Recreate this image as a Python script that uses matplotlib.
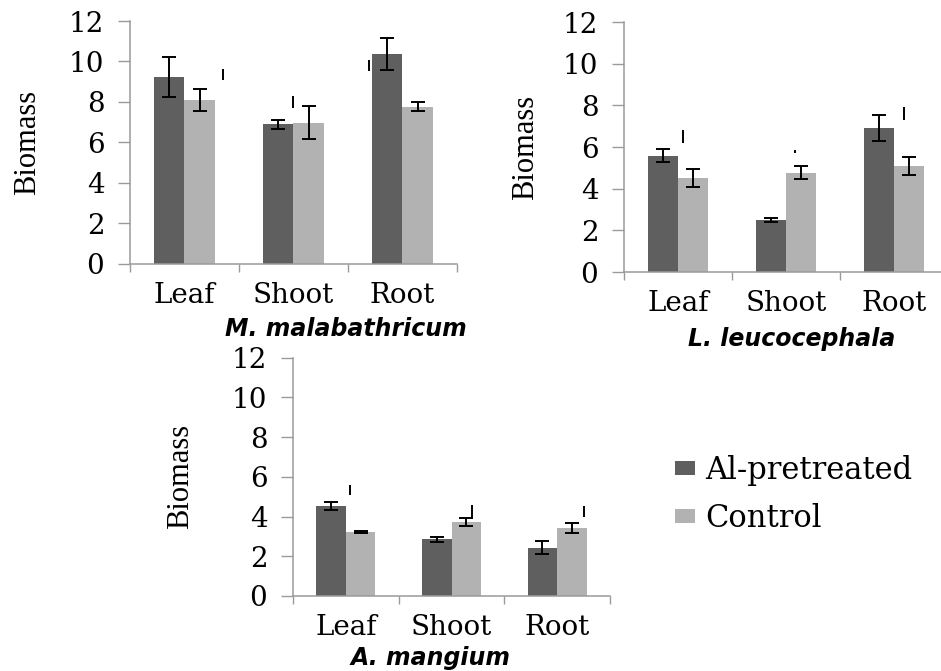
import matplotlib
matplotlib.use("Agg")
import matplotlib.pyplot as plt
import numpy as np

# Biomass of plant parts, Al-pretreated vs control, three species
parts = ["Leaf", "Shoot", "Root"]
series = ["Al-pretreated", "Control"]

mm_al = [9.23, 6.90, 10.37]
mm_al_err = [1.00, 0.22, 0.80]
mm_ctrl = [8.10, 6.98, 7.77]
mm_ctrl_err = [0.55, 0.80, 0.22]

ll_al = [5.59, 2.48, 6.90]
ll_al_err = [0.33, 0.10, 0.62]
ll_ctrl = [4.51, 4.77, 5.10]
ll_ctrl_err = [0.43, 0.31, 0.43]

am_al = [4.53, 2.85, 2.43]
am_al_err = [0.22, 0.13, 0.32]
am_ctrl = [3.22, 3.73, 3.44]
am_ctrl_err = [0.05, 0.22, 0.25]

# stray significance ticks: (x in category units, centre y, half length)
mm_marks = [(0.35, 9.36, 0.27), (1.00, 8.02, 0.30), (1.69, 9.80, 0.27)]
ll_marks = [(0.05, 6.51, 0.30), (1.08, 5.77, 0.08), (2.09, 7.62, 0.30)]
am_marks = [(0.04, 5.34, 0.27), (1.19, 4.28, 0.30), (2.25, 4.25, 0.28)]

DARK = "#5f5f5f"
LIGHT = "#b2b2b2"
AXIS = "#9a9a9a"
SERIF = "DejaVu Serif"


def draw_panel(ax, al, al_err, ctrl, ctrl_err, marks, species, ylab_x, title_xy):
    x = np.arange(len(parts))
    w = 0.28
    ekw = dict(ecolor="black", elinewidth=1.4, capsize=5, capthick=1.4)
    ax.bar(x - w / 2, al, w, yerr=al_err, color=DARK, error_kw=ekw, label=series[0])
    ax.bar(x + w / 2, ctrl, w, yerr=ctrl_err, color=LIGHT, error_kw=ekw, label=series[1])
    for mx, my, mh in marks:
        ax.plot([mx, mx], [my - mh, my + mh], color="black", lw=1.4, solid_capstyle="butt")

    ax.set_xlim(-0.5, len(parts) - 0.5)
    ax.set_ylim(0, 12)
    ax.set_yticks(range(0, 13, 2))
    ax.set_xticks(x)
    ax.set_xticklabels(parts, fontsize=20, family=SERIF)
    ax.set_xticks(np.arange(len(parts) + 1) - 0.5, minor=True)
    ax.tick_params(axis="x", which="major", length=0, pad=13)
    ax.tick_params(axis="x", which="minor", length=5.8, width=1, color=AXIS)
    ax.tick_params(axis="y", length=8.5, width=1, color=AXIS, pad=10, labelsize=20)
    for lab in ax.get_yticklabels():
        lab.set_family(SERIF)
    for s in ("top", "right"):
        ax.spines[s].set_visible(False)
    for s in ("left", "bottom"):
        ax.spines[s].set_color(AXIS)
        ax.spines[s].set_linewidth(1.1)

    ax.set_ylabel("Biomass", fontsize=22, family="Liberation Serif")
    ax.yaxis.set_label_coords(ylab_x, 0.5)
    ax.text(title_xy[0], title_xy[1], species, transform=ax.transAxes,
            ha="center", va="center", fontsize=17, fontweight="bold",
            fontstyle="italic", family="DejaVu Sans")


fig = plt.figure(figsize=(9.41, 6.71), dpi=100)
ax1 = fig.add_axes([0.1381, 0.6066, 0.3475, 0.3621])
ax2 = fig.add_axes([0.6631, 0.5946, 0.3443, 0.3726])
ax3 = fig.add_axes([0.3114, 0.1118, 0.3369, 0.3551])

draw_panel(ax1, mm_al, mm_al_err, mm_ctrl, mm_ctrl_err, mm_marks,
           "M. malabathricum", -0.269, (0.66, -0.267))
draw_panel(ax2, ll_al, ll_al_err, ll_ctrl, ll_ctrl_err, ll_marks,
           "L. leucocephala", -0.259, (0.519, -0.268))
draw_panel(ax3, am_al, am_al_err, am_ctrl, am_ctrl_err, am_marks,
           "A. mangium", -0.309, (0.435, -0.26))

handles, labels = ax3.get_legend_handles_labels()
fig.legend(handles, labels, loc="upper left", bbox_to_anchor=(0.717, 0.322),
           frameon=False, prop={"family": SERIF, "size": 22},
           handlelength=0.66, handleheight=0.33, handletextpad=0.33,
           labelspacing=0.55, borderpad=0, borderaxespad=0)

fig.savefig("out.png", dpi=100)
